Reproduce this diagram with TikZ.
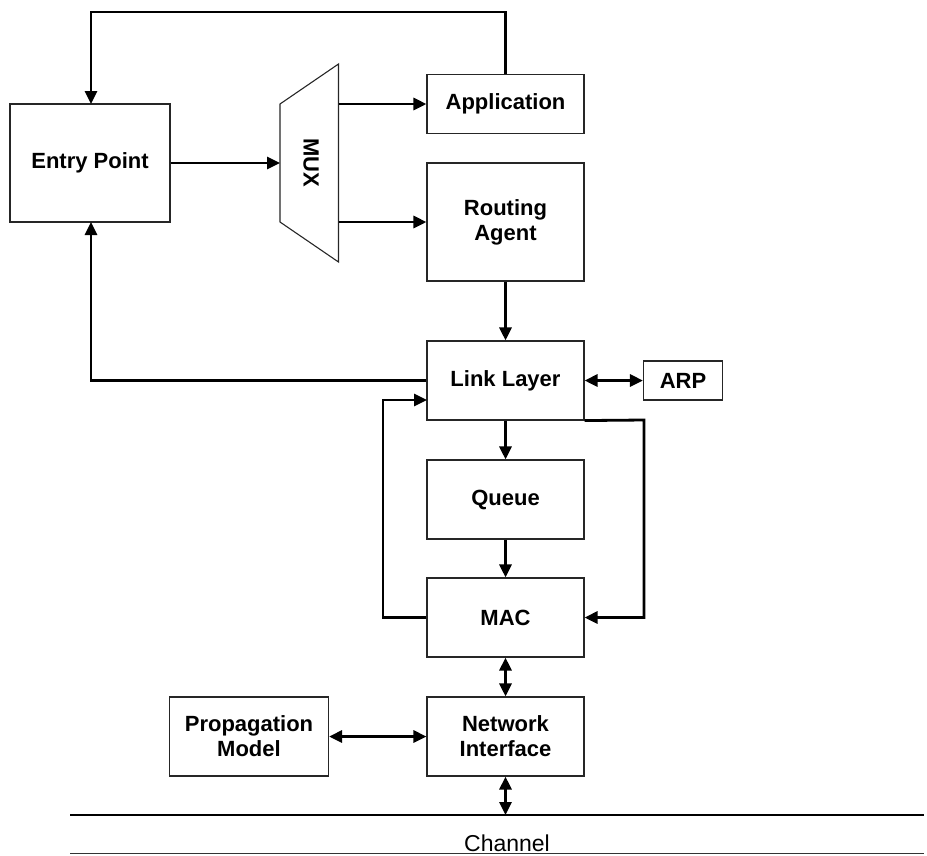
\documentclass[tikz,border=0pt]{standalone}
\usepackage{fontspec}
\setmainfont{Liberation Sans}
\usetikzlibrary{arrows.meta}
\begin{document}
\begin{tikzpicture}[x=1pt,y=-1pt,
  blk/.style={draw=black!85,line width=1.1pt,inner sep=0pt,align=center,
    font=\fontsize{22}{25}\selectfont\bfseries},
  conn/.style={line width=2.8pt,-{Triangle[length=13pt,width=12pt]}},
  dconn/.style={line width=2.8pt,{Triangle[length=13pt,width=12pt]}-{Triangle[length=13pt,width=12pt]}},
  plain/.style={line width=2.8pt}]
\useasboundingbox (0,0) rectangle (927,855);
% boxes
\node[blk,minimum width=160pt,minimum height=118pt] (ep) at (90,163) {Entry Point};
\node[blk,minimum width=157pt,minimum height=59pt] (app) at (505.5,104) {Application};
\node[blk,minimum width=157pt,minimum height=118pt] (ra) at (505.5,222) {Routing\\Agent};
\node[blk,minimum width=157pt,minimum height=79pt] (ll) at (505.5,380.5) {Link Layer};
\node[blk,minimum width=79pt,minimum height=39pt] (arp) at (683,380.5) {ARP};
\node[blk,minimum width=157pt,minimum height=79pt] (q) at (505.5,499.5) {Queue};
\node[blk,minimum width=157pt,minimum height=79pt] (mac) at (505.5,617.5) {MAC};
\node[blk,minimum width=157pt,minimum height=79pt] (ni) at (505.5,736.5) {Network\\Interface};
\node[blk,minimum width=159pt,minimum height=79pt] (pm) at (249,736.5) {Propagation\\Model};
% MUX trapezoid
\draw[draw=black!85,line width=1.1pt] (280,104) coordinate (muxtl) -- (338.5,64) coordinate (muxtr)
  -- (338.5,262) coordinate (muxbr) -- (280,222) coordinate (muxbl) -- cycle;
\node[font=\fontsize{22}{25}\selectfont\bfseries,rotate=-90] (mux) at (311,163) {MUX};
\coordinate (muxin) at (280,163);
\coordinate (muxo1) at (338.5,104);
\coordinate (muxo2) at (338.5,222);
% channel
\coordinate (chl1) at (70,815);
\coordinate (chr1) at (924,815);
\coordinate (chl2) at (70,853.5);
\coordinate (chr2) at (924,853.5);
\draw[line width=1.8pt] (chl1) -- (chr1);
\draw[line width=1.6pt,draw=black!80] (chl2) -- (chr2);
\node[font=\fontsize{23}{26}\selectfont,inner sep=0pt,anchor=base] (ch) at (507,851) {Channel};
% connectors
\coordinate (top1) at (505.5,12);
\coordinate (top2) at (91,12);
\draw[conn] (app.north) -- (top1) -- (top2) -- (91,104);
\draw[conn] (ep.east) -- (muxin);
\draw[conn] (muxo1) -- (app.west);
\draw[conn] (muxo2) -- (ra.west);
\draw[conn] (ra.south) -- (ll.north);
\coordinate (llw) at (91,380.5);
\draw[conn] (ll.west) -- (llw) -- (91,222);
\draw[dconn] (ll.east) -- (arp.west);
\draw[conn] (ll.south) -- (q.north);
\draw[conn] (q.south) -- (mac.north);
\coordinate (lp1) at (383,617.5);
\coordinate (lp2) at (383,400);
\draw[conn] (mac.west) -- (lp1) -- (lp2) -- (427,400);
\coordinate (rp1) at (644,420);
\coordinate (rp2) at (644,617.5);
\draw[conn] (ll.south east) -- (rp1) -- (rp2) -- (mac.east);
\draw[dconn] (mac.south) -- (ni.north);
\draw[dconn] (pm.east) -- (ni.west);
\coordinate (nich) at (505.5,815);
\draw[dconn] (ni.south) -- (nich);
\end{tikzpicture}
\end{document}
